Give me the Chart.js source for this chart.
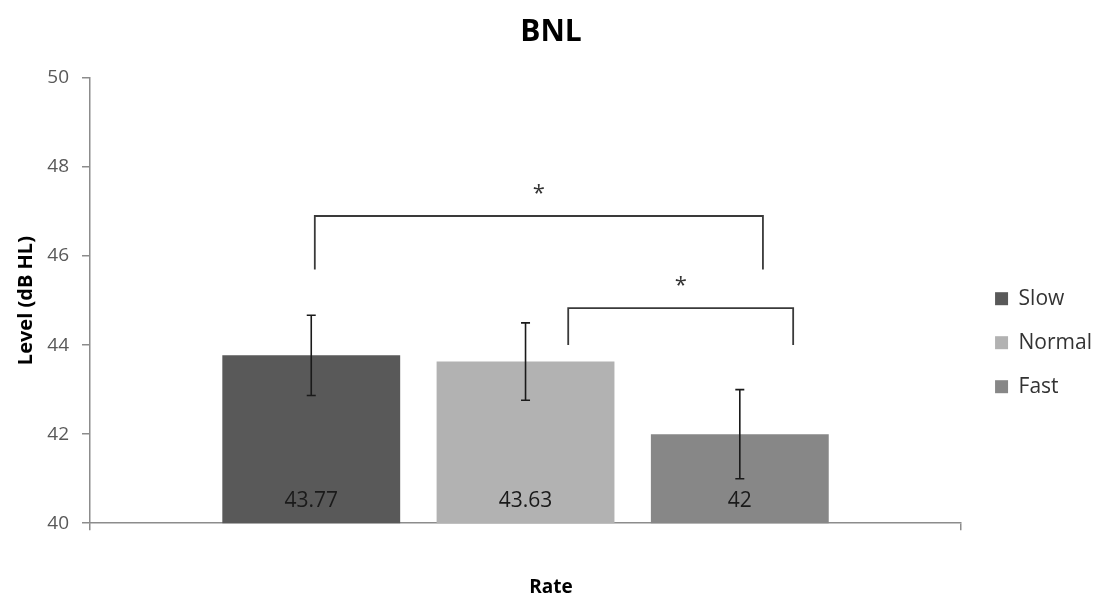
<!DOCTYPE html>
<html>
<head>
<meta charset="utf-8">
<title>BNL</title>
<script src="https://cdn.jsdelivr.net/npm/chart.js@4.4.1/dist/chart.umd.min.js"></script>
<style>
  html, body { margin: 0; padding: 0; background: #fff; }
  #wrap { width: 1096px; height: 601px; }
</style>
</head>
<body>
<div id="wrap"><canvas id="bnlChart"></canvas></div>
<script>
const categories = [''];
const seriesNames = ['Slow', 'Normal', 'Fast'];
const means = [43.77, 43.63, 42];
const errors = [0.9, 0.87, 1.0];
const barColors = ['#595959', '#b2b2b2', '#878787'];
const yTicks = [40, 42, 44, 46, 48, 50];

// significance brackets: bar index + position across that bar (0..1), heights in dB HL
const brackets = [
    { from: 0, fromAt: 0.52, to: 2, toAt: 0.63, top: 46.9, leg: 45.7, label: '*' },
    { from: 1, fromAt: 0.74, to: 2, toAt: 0.80, top: 44.83, leg: 44.0, label: '*' }
];

const fontFamily = '"Open Sans", "Noto Sans", sans-serif';

const extrasPlugin = {
    id: 'extras',
    afterDatasetsDraw(chart) {
        const ctx = chart.ctx;
        const y = chart.scales.y;
        const bars = chart.data.datasets.map((ds, i) => chart.getDatasetMeta(i).data[0]);

        ctx.save();
        // error bars
        ctx.strokeStyle = '#1a1a1a';
        ctx.lineWidth = 1.6;
        bars.forEach((bar, i) => {
            const yTop = y.getPixelForValue(means[i] + errors[i]);
            const yBot = y.getPixelForValue(means[i] - errors[i]);
            ctx.beginPath();
            ctx.moveTo(bar.x, yTop);
            ctx.lineTo(bar.x, yBot);
            ctx.moveTo(bar.x - 4.5, yTop);
            ctx.lineTo(bar.x + 4.5, yTop);
            ctx.moveTo(bar.x - 4.5, yBot);
            ctx.lineTo(bar.x + 4.5, yBot);
            ctx.stroke();
        });

        // value labels near the base of each bar
        ctx.fillStyle = '#1a1a1a';
        ctx.font = '21px ' + fontFamily;
        ctx.textAlign = 'center';
        ctx.textBaseline = 'middle';
        bars.forEach((bar, i) => {
            ctx.fillText(String(means[i]), bar.x, y.getPixelForValue(40) - 22);
        });

        // brackets with stars
        ctx.strokeStyle = '#3a3a3a';
        ctx.lineWidth = 1.8;
        brackets.forEach(b => {
            const b1 = bars[b.from], b2 = bars[b.to];
            const x1 = b1.x - b1.width / 2 + b1.width * b.fromAt;
            const x2 = b2.x - b2.width / 2 + b2.width * b.toAt;
            const yT = y.getPixelForValue(b.top);
            const yL = y.getPixelForValue(b.leg);
            ctx.beginPath();
            ctx.moveTo(x1, yL);
            ctx.lineTo(x1, yT);
            ctx.lineTo(x2, yT);
            ctx.lineTo(x2, yL);
            ctx.stroke();
            ctx.fillStyle = '#333';
            ctx.font = '22px ' + fontFamily;
            ctx.fillText(b.label, (x1 + x2) / 2, yT - 22);
        });
        ctx.restore();
    }
};

new Chart(document.getElementById('bnlChart'), {
    type: 'bar',
    data: {
        labels: categories,
        datasets: seriesNames.map((name, i) => ({
            label: name,
            data: [means[i]],
            backgroundColor: barColors[i],
            categoryPercentage: 0.738,
            barPercentage: 0.83
        }))
    },
    options: {
        responsive: true,
        maintainAspectRatio: false,
        animation: false,
        layout: { padding: { left: 0, right: -6, top: 0, bottom: 0 } },
        plugins: {
            title: {
                display: true,
                text: 'BNL',
                color: '#000',
                font: { family: fontFamily, size: 30, weight: 'bold' },
                padding: { top: 14, bottom: 28 }
            },
            subtitle: {
                display: true,
                position: 'bottom',
                text: 'Rate',
                color: '#000',
                font: { family: fontFamily, size: 19, weight: 'bold' },
                padding: { top: 46, bottom: 2 }
            },
            legend: {
                position: 'right',
                title: { display: true, text: ' ', font: { size: 2 }, padding: { top: 41, bottom: 41 } },
                labels: {
                    color: '#333',
                    font: { family: fontFamily, size: 21 },
                    boxWidth: 13,
                    boxHeight: 13,
                    padding: 23
                }
            },
            tooltip: { enabled: false }
        },
        scales: {
            x: {
                ticks: { display: false },
                grid: { drawOnChartArea: false, tickLength: 7, color: '#8c8c8c', lineWidth: 1.5 },
                border: { color: '#8c8c8c', width: 1.5 }
            },
            y: {
                min: 40,
                max: 50,
                afterBuildTicks(scale) {
                    scale.ticks = yTicks.map(v => ({ value: v }));
                },
                afterFit(scale) {
                    scale.width = 90;
                },
                ticks: {
                    color: '#595959',
                    font: { family: fontFamily, size: 19 },
                    padding: 13
                },
                grid: { drawOnChartArea: false, tickLength: 8, color: '#8c8c8c', lineWidth: 1.5 },
                border: { color: '#8c8c8c', width: 1.5 },
                title: {
                    display: true,
                    text: 'Level (dB HL)',
                    color: '#000',
                    font: { family: fontFamily, size: 20, weight: 'bold' },
                    padding: { top: 14, bottom: 0 }
                }
            },
            // empty spacer between plot area and legend
            gap: {
                type: 'linear',
                position: 'right',
                display: true,
                ticks: { display: false },
                grid: { display: false },
                border: { display: false },
                afterFit(scale) {
                    scale.width = 11;
                }
            }
        }
    },
    plugins: [extrasPlugin]
});
</script>
</body>
</html>
